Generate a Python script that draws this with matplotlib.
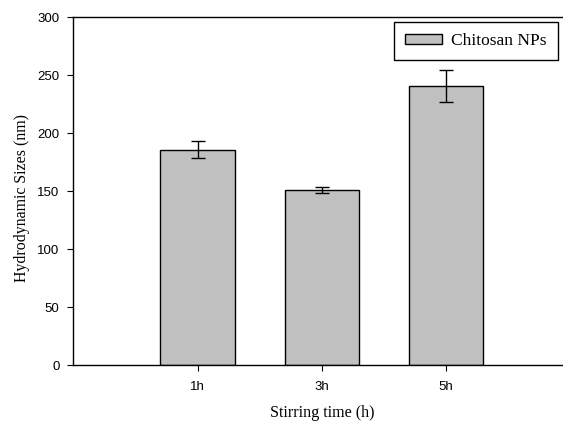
import matplotlib
matplotlib.use("Agg")
import matplotlib.pyplot as plt

# data
times = ["1h", "3h", "5h"]
sizes = [186, 151, 241]
errors = [7, 2.5, 14]

tick_font = "Liberation Sans"
label_font = "Liberation Serif"

fig = plt.figure(figsize=(5.63, 4.21), dpi=100)
ax = fig.add_axes([0.1305, 0.1323, 0.882, 0.8266])

pos = [1, 2, 3]
ax.bar(pos, sizes, width=0.6, color="#c0c0c0", edgecolor="black",
       linewidth=1.0, label="Chitosan NPs", zorder=2)
ax.errorbar(pos, sizes, yerr=errors, fmt="none", ecolor="black",
            elinewidth=1.0, capsize=5, capthick=1.0, zorder=3)

ax.set_xlim(0, 4)
ax.set_ylim(0, 300)
ax.set_xticks(pos)
ax.set_xticklabels(times)
ax.set_yticks(range(0, 301, 50))
for lab in ax.get_xticklabels() + ax.get_yticklabels():
    lab.set_fontfamily(tick_font)
    lab.set_fontsize(9.5)
ax.tick_params(direction="out", length=4, width=0.8, pad=6)
ax.tick_params(axis="x", pad=7)

ax.spines["right"].set_visible(False)
for s in ["left", "bottom", "top"]:
    ax.spines[s].set_linewidth(1.0)

ax.set_xlabel("Stirring time (h)", fontfamily=label_font, fontsize=11.6,
              labelpad=9)
ax.set_ylabel("Hydrodynamic Sizes (nm)", fontfamily=label_font,
              fontsize=11.4, labelpad=5.5, y=0.48)

leg = ax.legend(loc="upper right", bbox_to_anchor=(0.9906, 0.947),
                bbox_transform=fig.transFigure, borderaxespad=0,
                prop={"family": label_font, "size": 12.5}, fancybox=False,
                framealpha=1, edgecolor="black", handlelength=2.1,
                handleheight=0.52, borderpad=0.62, handletextpad=0.56)
leg.get_frame().set_linewidth(1.0)

fig.savefig("out.png", dpi=100)
